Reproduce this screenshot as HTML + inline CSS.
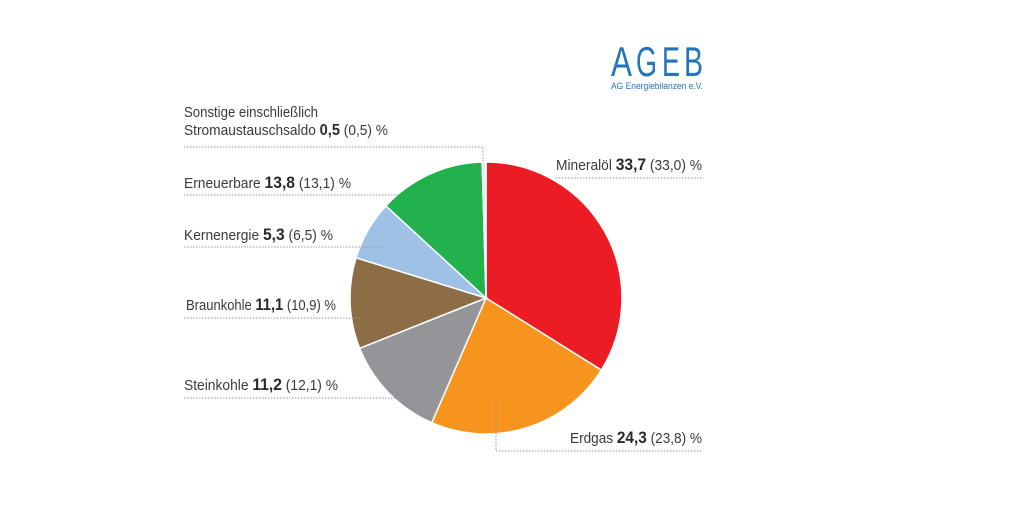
<!DOCTYPE html>
<html><head><meta charset="utf-8"><style>
html,body{margin:0;padding:0;background:#fff;width:1024px;height:512px;overflow:hidden}
text{font-family:"Liberation Sans Narrow","Liberation Sans",sans-serif;fill:#3a3a3a}
.b{font-weight:bold;fill:#2a2a2a}
.d{stroke:#9a9a9a;stroke-width:1;stroke-dasharray:1.5 1.5;fill:none}
.l{font-family:"Liberation Sans",sans-serif;fill:#2474bd;font-size:42px}
</style></head><body>
<svg id="s" width="1024" height="512" viewBox="0 0 1024 512" xmlns="http://www.w3.org/2000/svg">
<g id="pie"></g>
<text class="l" x="611" y="76" textLength="21" lengthAdjust="spacingAndGlyphs">A</text>
<text class="l" x="636" y="76" textLength="21" lengthAdjust="spacingAndGlyphs">G</text>
<text class="l" x="662" y="76" textLength="18" lengthAdjust="spacingAndGlyphs">E</text>
<text class="l" x="684" y="76" textLength="19" lengthAdjust="spacingAndGlyphs">B</text>
<text x="611" y="89" font-size="9" style="fill:#2474bd" textLength="92" lengthAdjust="spacingAndGlyphs">AG Energiebilanzen e.V.</text>

<text x="184" y="117" font-size="15" textLength="134" lengthAdjust="spacingAndGlyphs">Sonstige einschließlich</text>
<text x="184" y="135" font-size="15" textLength="204" lengthAdjust="spacingAndGlyphs">Stromaustauschsaldo <tspan class="b" font-size="16">0,5</tspan> (0,5) %</text>
<path class="d" d="M184 147H483V162"/>

<text x="184" y="188" font-size="15" textLength="167" lengthAdjust="spacingAndGlyphs">Erneuerbare <tspan class="b" font-size="17">13,8</tspan> (13,1) %</text>
<path class="d" d="M184 195H400"/>

<text x="184" y="240" font-size="15" textLength="149" lengthAdjust="spacingAndGlyphs">Kernenergie <tspan class="b" font-size="17">5,3</tspan> (6,5) %</text>
<path class="d" d="M184 247H383"/>

<text x="186" y="310" font-size="15" textLength="150" lengthAdjust="spacingAndGlyphs">Braunkohle <tspan class="b" font-size="17">11,1</tspan> (10,9) %</text>
<path class="d" d="M184 318H362"/>

<text x="184" y="390" font-size="15" textLength="154" lengthAdjust="spacingAndGlyphs">Steinkohle <tspan class="b" font-size="17">11,2</tspan> (12,1) %</text>
<path class="d" d="M184 398H415"/>

<text x="556" y="170" font-size="15" textLength="146" lengthAdjust="spacingAndGlyphs">Mineralöl <tspan class="b" font-size="17">33,7</tspan> (33,0) %</text>
<path class="d" d="M556 178H702"/>

<text x="570" y="443" font-size="15" textLength="132" lengthAdjust="spacingAndGlyphs">Erdgas <tspan class="b" font-size="17">24,3</tspan> (23,8) %</text>
<path class="d" d="M496 400V451H702"/>
</svg>
<script>
var cx=486,cy=298,r=136;
var d=[[-90,32,"#ec1c24"],[32,113.5,"#f7941d"],[113.5,158.3,"#939598"],[158.3,197.2,"#8c6d46"],[197.2,222.6,"#9fc1e6"],[222.6,268.4,"#22b14c"],[268.4,270,"#e8e8e8"]];
var g=document.getElementById("pie"),h="";
d.forEach(function(e){var a=e[0],a2=e[1];
var r1=a*Math.PI/180,r2=a2*Math.PI/180;
var x1=cx+r*Math.cos(r1),y1=cy+r*Math.sin(r1),x2=cx+r*Math.cos(r2),y2=cy+r*Math.sin(r2);
h+='<path d="M'+cx+' '+cy+'L'+x1+' '+y1+'A'+r+' '+r+' 0 '+((a2-a)>180?1:0)+' 1 '+x2+' '+y2+'Z" fill="'+e[2]+'" stroke="#fff" stroke-width="1.5"/>';
});
g.innerHTML=h;
</script>
</body></html>
